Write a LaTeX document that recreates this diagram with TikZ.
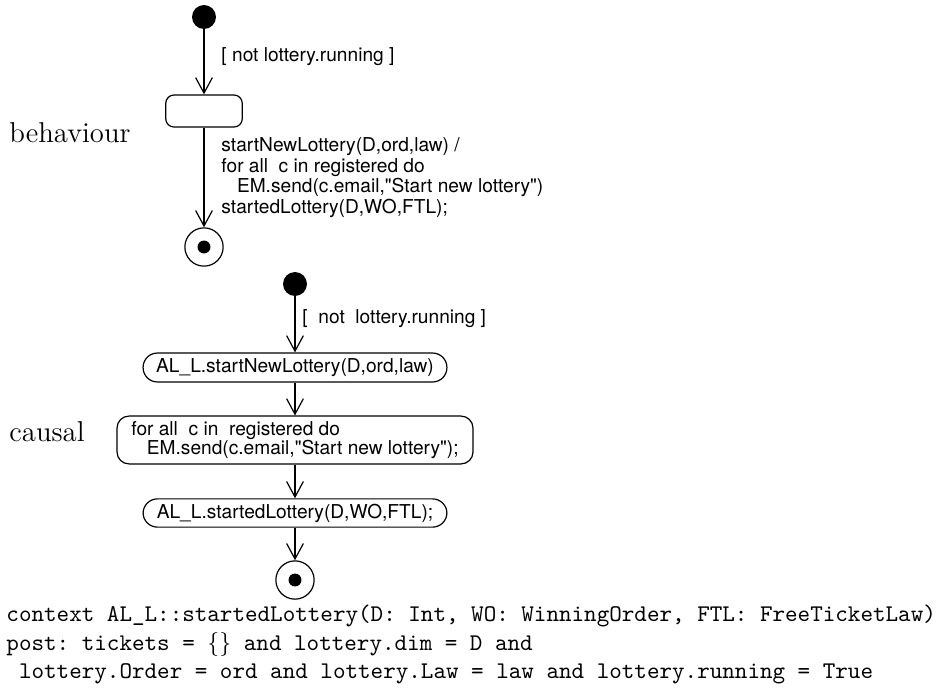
\documentclass[tikz,border=0pt]{standalone}
\usepackage{fontspec}
\newfontfamily\helv{TeX Gyre Heros}
\usetikzlibrary{arrows.meta}
\tikzset{
  umlfont/.style={font=\helv\fontsize{8}{8}\selectfont},
  initdot/.style={circle,fill,inner sep=0pt,minimum size=10pt},
  finaldot/.style={circle,draw,line width=0.5pt,inner sep=0pt,minimum size=16pt,
    path picture={\fill (path picture bounding box.center) circle (2.7pt);}},
  statebox/.style={draw,line width=0.5pt,rounded corners=3.5pt,minimum width=32pt,minimum height=13.4pt},
  actbox/.style={draw,line width=0.5pt,rounded corners=6pt,inner sep=0pt,umlfont,align=left},
  lbl/.style={inner sep=0pt,umlfont,align=left},
  ocl/.style={anchor=base west,inner sep=0pt,font=\ttfamily\fontsize{10}{12}\selectfont\frenchspacing},
  trans/.style={->,line width=0.5pt},
  >={Straight Barb[length=6.5pt,width=7pt]}
}
\begin{document}
\begin{tikzpicture}[x=0.418pt,y=-0.418pt]
    \useasboundingbox (0,0) rectangle (937,688);

    % behaviour
    \node[anchor=base west,inner sep=0pt,font=\fontsize{12}{14}\selectfont] (behav) at (9,142) {behaviour};
    \node[initdot] (bh-init) at (204,17) {};
    \node[statebox] (bh-state) at (204,111) {};
    \node[finaldot] (bh-final) at (204,247) {};
    \draw[trans] (bh-init) -- (bh-state);
    \draw[trans] (bh-state) -- (bh-final);
    \node[lbl,anchor=west] (bh-guard) at (221,57) {[ not lottery.running ]};
    \node[lbl,anchor=north west,font=\helv\fontsize{8}{7.2}\selectfont] (bh-effect) at (221,137) {startNewLottery(D,ord,law) /\\for all~~c in registered do\\\hspace*{6.5pt}EM.send(c.email,"Start new lottery")\\startedLottery(D,WO,FTL);};

    % causal
    \node[anchor=base west,inner sep=0pt,font=\fontsize{12}{14}\selectfont] (causal) at (9,441) {causal};
    \node[initdot] (cs-init) at (295,284) {};
    \node[actbox,minimum width=127pt,minimum height=12.1pt] (cs-start) at (295,367.5) {AL\_L.startNewLottery(D,ord,law)};
    \node[actbox,minimum width=148.8pt,minimum height=20pt,rounded corners=5pt] (cs-send) at (295,440) {for all~~c in~~registered do\\\hspace*{6.5pt}EM.send(c.email,"Start new lottery");};
    \node[actbox,minimum width=127pt,minimum height=11.8pt] (cs-started) at (295,513) {AL\_L.startedLottery(D,WO,FTL);};
    \node[finaldot] (cs-final) at (295,580) {};
    \draw[trans] (cs-init) -- (cs-start);
    \draw[trans] (cs-start) -- (cs-send);
    \draw[trans] (cs-send) -- (cs-started);
    \draw[trans] (cs-started) -- (cs-final);
    \node[lbl,anchor=west] (cs-guard) at (302,319) {[~~not~~lottery.running ]};

    % OCL
    \node[ocl] (ocl-ctx) at (6,621) {context AL\_L::startedLottery(D: Int, WO: WinningOrder, FTL: FreeTicketLaw)};
    \node[ocl] (ocl-post) at (6,650) {post: tickets = $\{\}$ and lottery.dim = D and};
    \node[ocl] (ocl-cont) at (6,678) {\hphantom{x}lottery.Order = ord and lottery.Law = law and lottery.running = True};
  \end{tikzpicture}
\end{document}
